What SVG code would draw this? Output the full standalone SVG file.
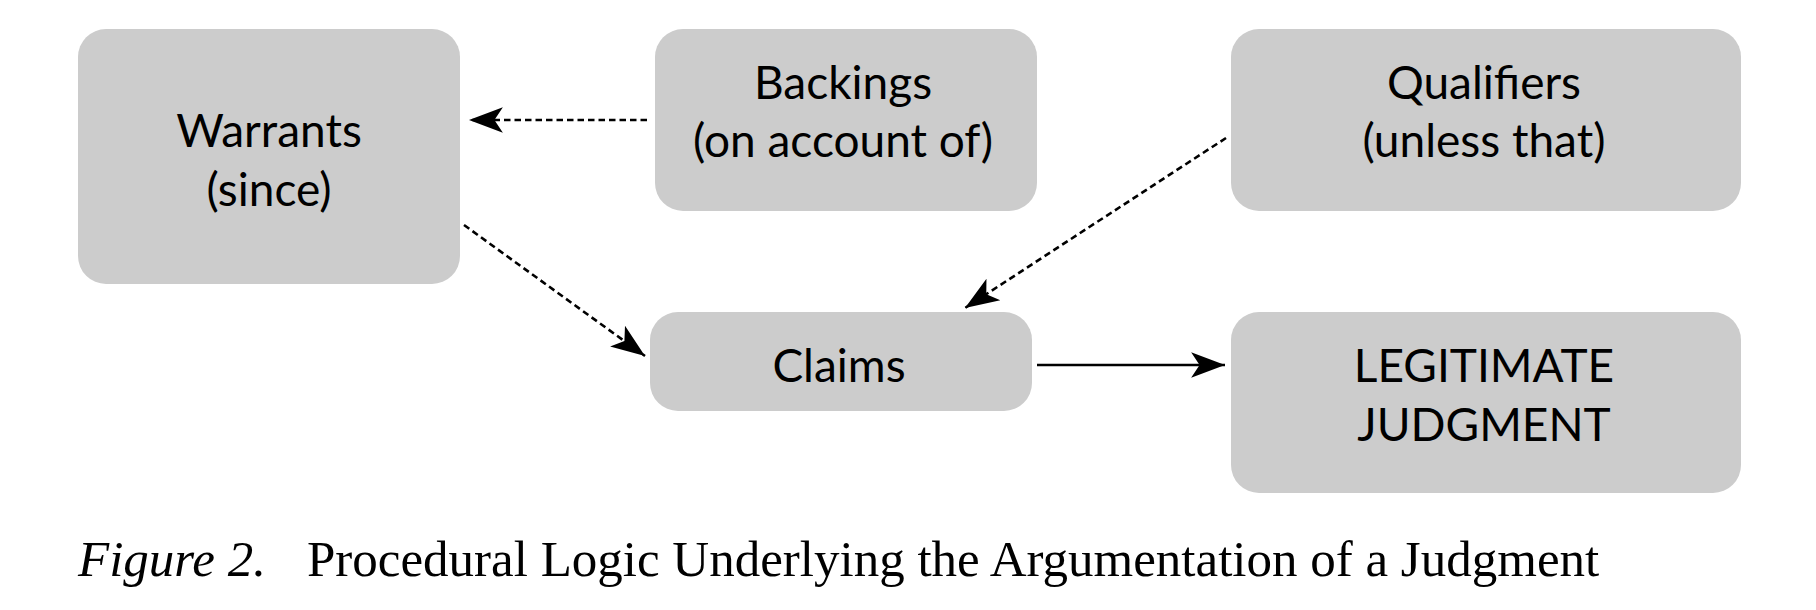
<svg xmlns="http://www.w3.org/2000/svg" width="1816" height="610" viewBox="0 0 1816 610">
<style>
.box{fill:#cccccc;}
.lbl{font-family:Lato,"Liberation Sans",sans-serif;font-size:46px;fill:#000;text-anchor:middle;}
.dash{stroke:#000;stroke-width:2.6;fill:none;stroke-dasharray:6.5 4;}
.solid{stroke:#000;stroke-width:2.6;fill:none;}
.cap{font-family:"Liberation Serif","Times New Roman",serif;font-size:51px;fill:#000;}
</style>
<defs>
<marker id="ah" markerUnits="userSpaceOnUse" markerWidth="36" markerHeight="28" viewBox="-33 -13 34 26" refX="0" refY="0" orient="auto">
<path d="M0,0 L-32,-12 L-24,0 L-32,12 Z" fill="#000"/>
</marker>
</defs>
<rect width="1816" height="610" fill="#fff"/>
<g id="warrants">
<rect class="box" x="78" y="29" width="382" height="255" rx="28"/>
<text class="lbl" x="269" y="147">Warrants</text>
<text class="lbl" x="269" y="206">(since)</text>
</g>
<g id="backings">
<rect class="box" x="655" y="29" width="382" height="182" rx="28"/>
<text class="lbl" x="843" y="99">Backings</text>
<text class="lbl" x="843" y="157">(on account of)</text>
</g>
<g id="qualifiers">
<rect class="box" x="1231" y="29" width="510" height="182" rx="28"/>
<text class="lbl" x="1484" y="99">Qualifiers</text>
<text class="lbl" x="1484" y="157">(unless that)</text>
</g>
<g id="claims">
<rect class="box" x="650" y="312" width="382" height="99" rx="28"/>
<text class="lbl" x="839" y="382">Claims</text>
</g>
<g id="legitimate">
<rect class="box" x="1231" y="312" width="510" height="181" rx="28"/>
<text class="lbl" x="1484" y="382">LEGITIMATE</text>
<text class="lbl" x="1484" y="441">JUDGMENT</text>
</g>
<g id="connectors">
<line class="dash" x1="647" y1="120" x2="469" y2="120" marker-end="url(#ah)"/>
<line class="dash" x1="464" y1="225" x2="645" y2="356" marker-end="url(#ah)"/>
<line class="dash" x1="1226" y1="138" x2="965" y2="308" marker-end="url(#ah)"/>
<line class="solid" x1="1037" y1="365" x2="1225" y2="365" marker-end="url(#ah)"/>
</g>
<g id="caption">
<text class="cap" x="78" y="576" font-style="italic">Figure 2.</text>
<text class="cap" x="307" y="576">Procedural Logic Underlying the Argumentation of a Judgment</text>
</g>
</svg>
